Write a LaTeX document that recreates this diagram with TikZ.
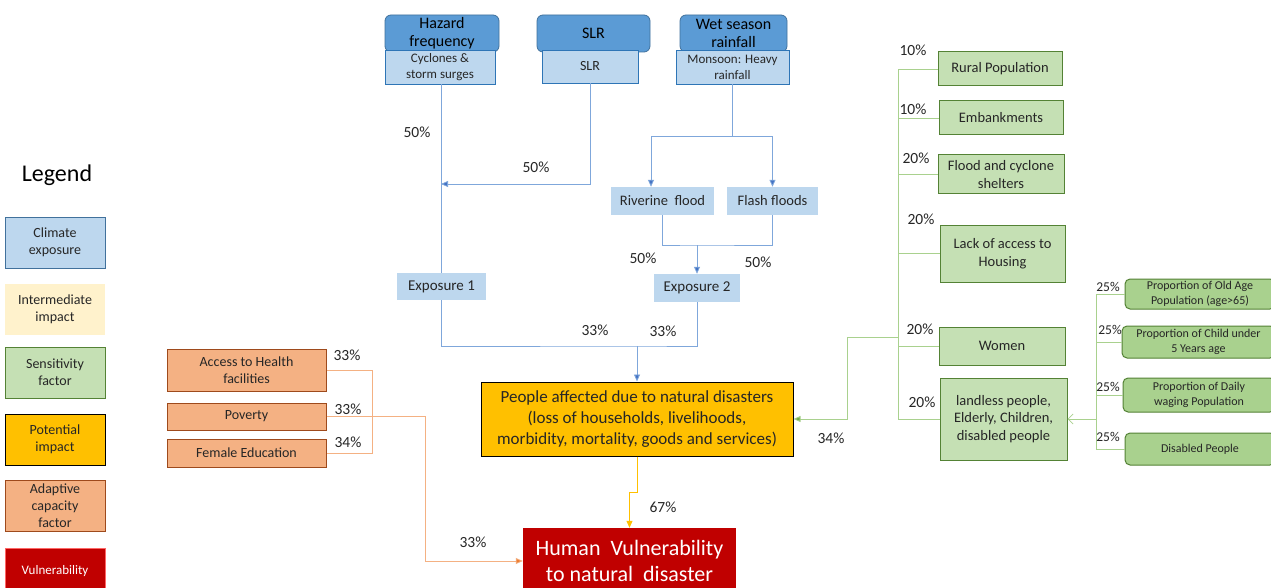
\documentclass[tikz,border=0pt]{standalone}
\usepackage{fontspec}
\setmainfont{Carlito}
\usetikzlibrary{arrows.meta}
\definecolor{hdrblue}{HTML}{5B9BD5}
\definecolor{hdredge}{HTML}{41719C}
\definecolor{lightblue}{HTML}{BDD7EE}
\definecolor{lbedge}{HTML}{2E75B6}
\definecolor{blueline}{HTML}{7FA7DB}
\definecolor{bluetip}{HTML}{4472C4}
\definecolor{sensfill}{HTML}{C5E0B4}
\definecolor{sensedge}{HTML}{548235}
\definecolor{subfill}{HTML}{A9D18E}
\definecolor{greenline}{HTML}{A9D18E}
\definecolor{greentip}{HTML}{70AD47}
\definecolor{potfill}{HTML}{FFC000}
\definecolor{adfill}{HTML}{F4B183}
\definecolor{adedge}{HTML}{9E4A1C}
\definecolor{orline}{HTML}{F4B183}
\definecolor{ortip}{HTML}{ED7D31}
\definecolor{vulfill}{HTML}{C00000}
\definecolor{interfill}{HTML}{FFF2CC}
\definecolor{txt}{HTML}{262626}
\tikzset{
  base/.style={inner sep=0pt, align=center, text=txt, font=\fontsize{14}{17}\selectfont},
  header/.style={base, rounded corners=6pt, fill=hdrblue, draw=hdredge, line width=0.8pt, text=black, font=\fontsize{16}{18}\selectfont},
  expo/.style={base, fill=lightblue, draw=lbedge, line width=0.8pt, font=\fontsize{13}{16}\selectfont},
  flat/.style={base, fill=lightblue, font=\fontsize{14.5}{17}\selectfont},
  sens/.style={base, fill=sensfill, draw=sensedge, line width=1pt, font=\fontsize{14.5}{17.5}\selectfont},
  subsens/.style={base, rounded corners=5pt, fill=subfill, draw=sensedge, line width=1pt, font=\fontsize{12}{14.5}\selectfont},
  adapt/.style={base, fill=adfill, draw=adedge, line width=1pt},
  pct/.style={inner sep=0pt, text=txt, font=\fontsize{15.5}{18}\selectfont},
  spct/.style={inner sep=0pt, text=txt, font=\fontsize{13.5}{16}\selectfont},
  bl/.style={draw=blueline, line width=0.8pt},
  blarrow/.style={bl, -{Triangle[length=7pt,width=6pt,fill=bluetip]}},
  gl/.style={draw=greenline, line width=0.8pt},
  ol/.style={draw=orline, line width=0.8pt},
}
\begin{document}
\begin{tikzpicture}[x=1pt,y=-1pt]
\useasboundingbox (0,0) rectangle (1271,588);
\fill[white] (0,0) rectangle (1271,588);

% ---- legend ----
\node[inner sep=0pt, font=\fontsize{24}{28}\selectfont] (legtitle) at (57,175) {Legend};
\node[base, minimum width=100pt, minimum height=51pt, fill=lightblue, draw=hdredge, line width=1pt] (lgclim) at (55,242.5) {Climate\\exposure};
\node[base, minimum width=100pt, minimum height=51pt, fill=interfill] (lginter) at (55,309.5) {Intermediate\\impact};
\node[base, minimum width=100pt, minimum height=51pt, fill=sensfill, draw=sensedge, line width=1pt] (lgsens) at (55,372.5) {Sensitivity\\factor};
\node[base, minimum width=100pt, minimum height=51pt, fill=potfill, draw=black, line width=1pt] (lgpot) at (55,439.5) {Potential\\impact};
\node[base, minimum width=100pt, minimum height=51pt, fill=adfill, draw=adedge, line width=1pt] (lgadapt) at (55,505.5) {Adaptive\\capacity\\factor};
\node[base, minimum width=100pt, minimum height=46pt, fill=vulfill, draw=red!60, line width=0.6pt, text=white, font=\fontsize{13}{16}\selectfont] (lgvul) at (55,571) {Vulnerability};

% ---- climate drivers ----
\node[header, minimum width=114pt, minimum height=37pt] (hz) at (442,33.5) {Hazard\\frequency};
\node[header, minimum width=113pt, minimum height=37pt] (slr) at (593.5,33.5) {SLR};
\node[header, minimum width=107pt, minimum height=37pt] (wet) at (733.5,33.5) {Wet season\\rainfall};
\node[expo, minimum width=110pt, minimum height=34pt] (hzl) at (440,67) {Cyclones \&\\storm surges};
\node[expo, minimum width=96pt, minimum height=33pt, font=\fontsize{14}{17}\selectfont] (slrl) at (590,66.5) {SLR};
\node[expo, minimum width=113pt, minimum height=34pt] (wetl) at (732.5,67) {Monsoon: Heavy\\rainfall};

\node[flat, minimum width=103pt, minimum height=28pt] (riv) at (662.5,201) {Riverine\ \ flood};
\node[flat, minimum width=91pt, minimum height=28pt] (flash) at (772.5,201) {Flash floods};
\node[flat, minimum width=89pt, minimum height=27pt, font=\fontsize{15}{17}\selectfont] (exp1) at (441.5,286.5) {Exposure 1};
\node[flat, minimum width=86pt, minimum height=28pt, font=\fontsize{15}{17}\selectfont] (exp2) at (697,288) {Exposure 2};

% ---- impacts ----
\node[base, minimum width=312pt, minimum height=74pt, fill=potfill, draw=black, line width=1pt, font=\fontsize{17}{21}\selectfont] (pot) at (637,419) {People affected due to natural disasters\\(loss of households,\ livelihoods,\\morbidity, mortality, goods and services)};
\node[base, minimum width=213pt, minimum height=66pt, fill=vulfill, text=white, font=\fontsize{22}{26}\selectfont] (hum) at (629.5,561) {Human\ \ Vulnerability\\to natural\ \ disaster};

% ---- adaptive capacity ----
\node[adapt, minimum width=159pt, minimum height=42pt] (ahf) at (246.5,370) {Access to Health\\facilities};
\node[adapt, minimum width=159pt, minimum height=27pt] (pov) at (246.5,416.5) {Poverty};
\node[adapt, minimum width=159pt, minimum height=28pt] (fed) at (246.5,453) {Female Education};

% ---- sensitivity ----
\node[sens, minimum width=124pt, minimum height=34pt] (rural) at (1000,69) {Rural Population};
\node[sens, minimum width=124pt, minimum height=34pt] (emb) at (1001,118) {Embankments};
\node[sens, minimum width=126pt, minimum height=39pt] (fcs) at (1001,174.5) {Flood and cyclone\\shelters};
\node[sens, minimum width=125pt, minimum height=57pt] (lah) at (1002.5,253.5) {Lack of access to\\Housing};
\node[sens, minimum width=126pt, minimum height=38pt] (wom) at (1002,346) {Women};
\node[sens, minimum width=127pt, minimum height=82pt] (land) at (1003.5,419) {landless people,\\Elderly, Children,\\disabled people};

\node[subsens, minimum width=150pt, minimum height=30pt] (old) at (1200,294) {Proportion of Old Age\\Population (age>65)};
\node[subsens, minimum width=153pt, minimum height=32pt] (child) at (1198.5,342) {Proportion of Child under\\5 Years age};
\node[subsens, minimum width=152pt, minimum height=34pt] (daily) at (1199,395) {Proportion of Daily\\waging Population};
\node[subsens, minimum width=150pt, minimum height=32pt] (dis) at (1200,449) {Disabled People};

% ---- blue connectors ----
\coordinate (j1) at (441,184);
\draw[bl] (hzl.south -| j1) -- (exp1.north -| j1);
\draw[blarrow] (slrl.south) |- (j1);
\coordinate (wj) at (732.5,136);
\draw[bl] (wetl.south) -- (wj);
\draw[blarrow] (wj) -| ([xshift=-11.5pt]riv.north);
\draw[blarrow] (wj) -| (flash.north);
\coordinate (fj) at (697,245);
\draw[bl] (riv.south) |- (fj) -| (flash.south);
\draw[blarrow] (fj) -- (exp2.north);
\coordinate (ej) at (637,346);
\draw[bl] (exp1.south -| j1) |- (ej) -| (exp2.south);
\draw[blarrow] (ej) -- (pot.north);

% ---- potential impact to vulnerability ----
\draw[draw=potfill, line width=0.8pt, -{Triangle[length=7pt,width=6pt]}] (pot.south) -- ++(0,36) -| (hum.north);

% ---- adaptive capacity connectors ----
\coordinate (aj) at (372,370);
\draw[ol] (ahf.east) -- (aj) -- (aj |- fed.east) -- (fed.east);
\draw[ol, -{Triangle[length=7pt,width=6pt,fill=ortip]}] (pov.east) -- (425,416.5) |- (hum.west);

% ---- sensitivity connectors ----
\coordinate (gtop) at (898,69);
\draw[gl] (rural.west) -- (gtop) -- (gtop |- land.west) -- (land.west);
\draw[gl] (emb.west) -- (emb.west -| gtop);
\draw[gl] (fcs.west) -- (fcs.west -| gtop);
\draw[gl] (lah.west) -- (lah.west -| gtop);
\draw[gl] (wom.west) -- (wom.west -| gtop);
\coordinate (gj) at (898,337);
\draw[gl, -{Triangle[length=7pt,width=6pt,fill=greentip]}] (gj) -- (847,337) |- (pot.east);

\coordinate (sj) at (1096,294);
\draw[gl] (old.west) -- (sj) -- (sj |- dis.west) -- (dis.west);
\draw[gl] (child.west) -- (child.west -| sj);
\draw[gl] (daily.west) -- (daily.west -| sj);
\draw[gl, -{Straight Barb[length=5pt,width=10pt]}] (sj |- land.east) -- (land.east);

% ---- weights ----
\node[pct] (p1) at (417,132) {50\%};
\node[pct] (p2) at (536,167) {50\%};
\node[pct] (p3) at (643,258) {50\%};
\node[pct] (p4) at (758,262) {50\%};
\node[pct] (p5) at (595,330) {33\%};
\node[pct] (p6) at (663,331) {33\%};
\node[pct] (p7) at (663,507) {67\%};
\node[pct] (p8) at (831,438) {34\%};
\node[pct] (p9) at (473,542) {33\%};
\node[pct] (p10) at (347,355) {33\%};
\node[pct] (p11) at (348,409) {33\%};
\node[pct] (p12) at (348,442) {34\%};
\node[pct] (g1) at (913,50) {10\%};
\node[pct] (g2) at (913,109) {10\%};
\node[pct] (g3) at (916,158) {20\%};
\node[pct] (g4) at (921,219) {20\%};
\node[pct] (g5) at (920,329) {20\%};
\node[pct] (g6) at (922,402) {20\%};
\node[spct] (s1) at (1108,287) {25\%};
\node[spct] (s2) at (1110,330) {25\%};
\node[spct] (s3) at (1108,387) {25\%};
\node[spct] (s4) at (1108,437) {25\%};
\end{tikzpicture}
\end{document}
